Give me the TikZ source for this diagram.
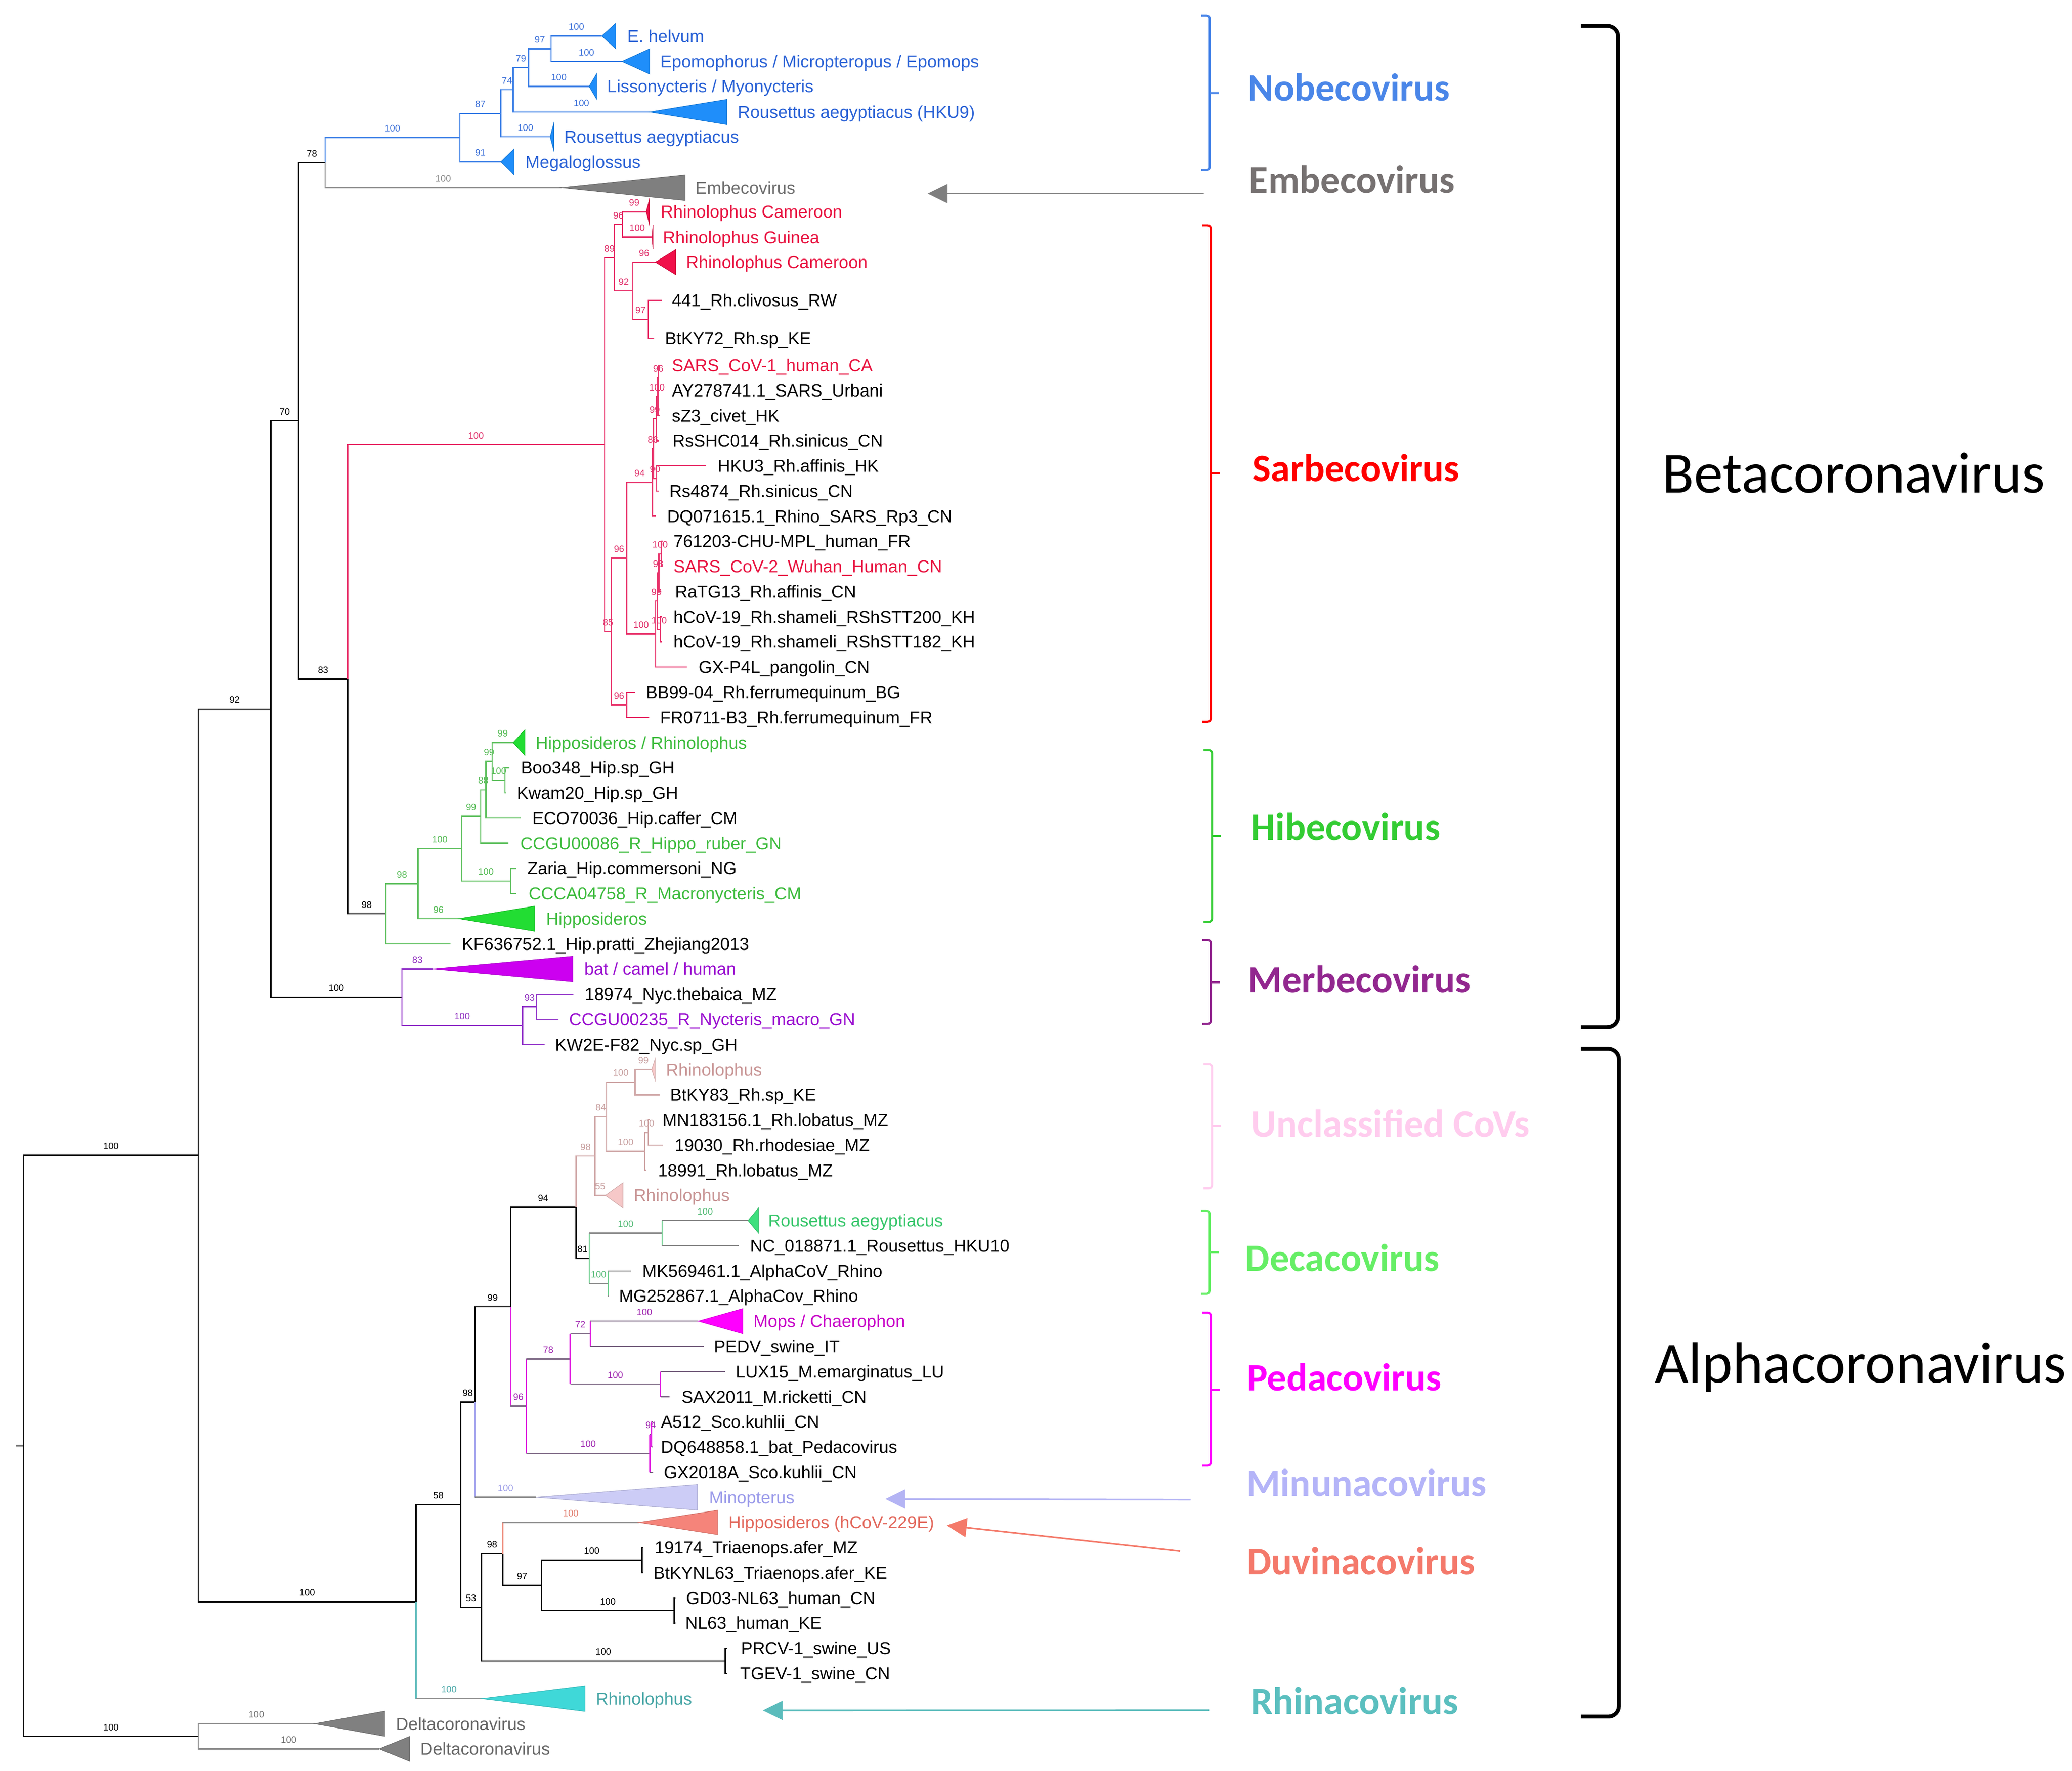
\documentclass[tikz,border=0pt]{standalone}
\usepackage{fontspec}
\setmainfont{Liberation Sans}
\newfontfamily\carl{Carlito}
\usetikzlibrary{arrows.meta}
% colours
\definecolor{nob}{HTML}{3A7EE6}\definecolor{nobT}{HTML}{1F8EFA}\definecolor{nobTx}{HTML}{2A62D6}\definecolor{nobB}{HTML}{3A6FD8}
\definecolor{emb}{HTML}{8A8A8A}\definecolor{embT}{HTML}{7F7F7F}\definecolor{embTx}{HTML}{6E6E6E}
\definecolor{sar}{HTML}{E8316A}\definecolor{sarT}{HTML}{F0104A}\definecolor{sarTx}{HTML}{E8123F}\definecolor{sarB}{HTML}{E0306A}
\definecolor{hib}{HTML}{5CBF5C}\definecolor{hibT}{HTML}{22DD33}\definecolor{hibTx}{HTML}{3CBB3C}\definecolor{hibB}{HTML}{55BB55}
\definecolor{mer}{HTML}{9030C8}\definecolor{merT}{HTML}{CC00F0}\definecolor{merTx}{HTML}{9A10D0}\definecolor{merB}{HTML}{9030C0}
\definecolor{unc}{HTML}{D0A8A8}\definecolor{uncT}{HTML}{F6C8C8}\definecolor{uncTx}{HTML}{C89494}\definecolor{uncB}{HTML}{C8A0A0}
\definecolor{dec}{HTML}{66CC88}\definecolor{decT}{HTML}{3EE07E}\definecolor{decTx}{HTML}{36C66A}\definecolor{decB}{HTML}{55BB77}
\definecolor{ped}{HTML}{E020E0}\definecolor{pedH}{HTML}{7E6A86}\definecolor{pedT}{HTML}{FF00FF}\definecolor{pedTx}{HTML}{C800C8}\definecolor{pedB}{HTML}{A028B0}
\definecolor{minc}{HTML}{A8A8EE}\definecolor{minT}{HTML}{CCCCF6}\definecolor{minTx}{HTML}{9A9AEA}\definecolor{minB}{HTML}{9FA0E8}
\definecolor{duv}{HTML}{EE9080}\definecolor{duvT}{HTML}{F5847A}\definecolor{duvTx}{HTML}{E2665A}\definecolor{duvB}{HTML}{E07868}
\definecolor{rhi}{HTML}{5CBABA}\definecolor{rhiT}{HTML}{3FD8D8}\definecolor{rhiTx}{HTML}{45A5A5}\definecolor{rhiB}{HTML}{4AA8A8}
\definecolor{hgr}{HTML}{8C8C8C}
\definecolor{del}{HTML}{888888}\definecolor{delT}{HTML}{808080}\definecolor{delTx}{HTML}{666666}\definecolor{delB}{HTML}{707070}
\definecolor{cNob}{HTML}{4A86E8}\definecolor{cEmb}{HTML}{767171}\definecolor{cSar}{HTML}{FF0000}
\definecolor{cHib}{HTML}{33CC33}\definecolor{cMer}{HTML}{92278F}\definecolor{cUnc}{HTML}{FFCCEE}
\definecolor{cDec}{HTML}{66EE66}\definecolor{cPed}{HTML}{FF00FF}\definecolor{cMin}{HTML}{B4B4F8}
\definecolor{cDuv}{HTML}{F4796B}\definecolor{cRhi}{HTML}{5BBFBF}
\definecolor{cEmbA}{HTML}{7F7F7F}\definecolor{cMinA}{HTML}{B4B4F4}\definecolor{cDuvA}{HTML}{F47A6A}\definecolor{cRhiA}{HTML}{5BBCBC}
% macros
\newcommand\Ed[5]{\draw[br,#1] (#3) |- (#4) node[bsl,#2,pos=0.75] (b#4) {#5};}
\newcommand\En[3]{\draw[br,#1] (#2) |- (#3);}
\newcommand\Es[6]{\draw[br,#1] (#4) -- (#4 |- #5); \draw[br,#2] (#4 |- #5) -- (#5) node[bsl,#3,midway] (b#5) {#6};}
\newcommand\Esn[4]{\draw[br,#1] (#3) -- (#3 |- #4); \draw[br,#2] (#3 |- #4) -- (#4);}
\newcommand\Tri[5]{\filldraw[fill=#1,draw=#1!85!black,line width=0.3pt] (#2) -- (#3,{#4-#5}) -- (#3,{#4+#5}) -- cycle;}
\newcommand\Brk[5]{\draw[line width=1.1pt,#1,rounded corners=0.6mm] (#2-6.5,#3) -- (#2,#3) -- (#2,#4) -- (#2-6.5,#4); \draw[line width=1.1pt,#1] (#2,#5) -- (#2+7,#5);}
\begin{document}
\begin{tikzpicture}[x=0.25mm,y=-0.25mm,
  br/.style={line width=0.65pt},
  bsl/.style={font=\fontsize{5}{6}\selectfont, inner sep=0pt, above=1mm, text height=3.6pt, text depth=0pt},
  lf/.style={font=\fontsize{9.3}{11}\selectfont, anchor=west, inner sep=0pt, text height=6.66pt, text depth=0pt},
  cl/.style={font=\carl\bfseries\fontsize{20.9}{24}\selectfont, anchor=west, inner sep=0pt, text height=13.2pt, text depth=0pt},
  big/.style={font=\carl\fontsize{31.3}{36}\selectfont, anchor=west, inner sep=0pt, text height=19.8pt, text depth=0pt},
  arr/.style={line width=0.85pt, -{Triangle[length=3.75mm, width=3.6mm]}}]
\fill[white] (0,0) rectangle (1568,1340.3);
\useasboundingbox (0,0) rectangle (1568,1340.3);
% ---------- coordinates ----------
\coordinate (rootL) at (12,1094.25);
\coordinate (root) at (18,1094.25);
\coordinate (nBA) at (150,874.4);
\coordinate (dl) at (150,1314.1);
\coordinate (nBeta) at (205,536.6);
\coordinate (aRoot) at (314.9,1212.2);
\coordinate (n70) at (226,318.5);
\coordinate (mRoot) at (304.1,754.8);
\coordinate (n78) at (246,123);
\coordinate (n83) at (263,514);
\coordinate (nNob) at (348,104.1);
\coordinate (tEmb) at (424.8,142);
\coordinate (n87) at (379,85.8);
\coordinate (tMeg) at (379,122.5);
\coordinate (n74) at (388.4,67.9);
\coordinate (tRou) at (416.3,103.6);
\coordinate (n79) at (400,51.1);
\coordinate (tHKU9) at (491.6,84.75);
\coordinate (nEh) at (417,36.9);
\coordinate (tLis) at (445.8,65.4);
\coordinate (tEhe) at (455.4,27.25);
\coordinate (tEpo) at (470.7,46.5);
% Sarbeco
\coordinate (sRoot) at (457.5,336.5);
\coordinate (s89) at (465,195);
\coordinate (s96t) at (471,169.9);
\coordinate (tRC1) at (489,160.3);
\coordinate (tRG) at (493.4,179.5);
\coordinate (s92) at (479,220.1);
\coordinate (tRC2) at (496,198.4);
\coordinate (s97) at (490.5,241.8);
\coordinate (t441) at (501,227.4);
\coordinate (tBt72) at (495,256.2);
\coordinate (s85) at (462.8,478);
\coordinate (s96b) at (474.2,422.5);
\coordinate (s94) at (493.8,365.1);
\coordinate (s86) at (494.5,339.5);
\coordinate (s99) at (496.5,316.9);
\coordinate (s100a) at (497.8,300.2);
\coordinate (s96a) at (498.5,285.9);
\coordinate (tS1) at (499.5,276.4);
\coordinate (tAY) at (499.5,295.44);
\coordinate (tSZ3) at (499,314.48);
\coordinate (tSHC) at (498.5,333.52);
\coordinate (s90) at (497,362.1);
\coordinate (tHKU3) at (534.5,352.56);
\coordinate (tRs48) at (498.6,371.6);
\coordinate (tDQ7) at (496,390.64);
\coordinate (s100d) at (496.2,479.9);
\coordinate (s99b) at (497.5,454.9);
\coordinate (s98) at (498.6,433.5);
\coordinate (s100b) at (500.5,419.2);
\coordinate (t761) at (501.5,409.68);
\coordinate (tS2) at (501.5,428.72);
\coordinate (tRaTG) at (500,447.76);
\coordinate (s100c) at (500,476.3);
\coordinate (tH200) at (501,466.8);
\coordinate (tH182) at (501,485.84);
\coordinate (tGX) at (519.7,504.88);
\coordinate (s96c) at (474.2,533.4);
\coordinate (tBB) at (480.7,523.92);
\coordinate (tFR) at (491.4,542.96);
% Hibeco
\coordinate (h98) at (292,691.6);
\coordinate (h98b) at (316.4,668.8);
\coordinate (tKF) at (340.9,714.32);
\coordinate (h100) at (349.3,642.3);
\coordinate (tHip) at (347.2,695.28);
\coordinate (h99) at (363.8,617.9);
\coordinate (h100b) at (386.2,666.7);
\coordinate (h88) at (367.7,597.7);
\coordinate (tCCGU86) at (384.8,638.16);
\coordinate (h99b) at (372.5,576.3);
\coordinate (tECO) at (394,619.12);
\coordinate (tHR) at (388.3,562);
\coordinate (h100c) at (382.2,590.56);
\coordinate (tBoo) at (385.6,581.04);
\coordinate (tKwam) at (383,600.08);
\coordinate (tZaria) at (390.9,657.2);
\coordinate (tCCCA) at (390.9,676.24);
% Merbeco
\coordinate (tBCH) at (327.7,733.36);
\coordinate (m100) at (395.4,776.2);
\coordinate (m93) at (406.2,761.9);
\coordinate (tKW) at (412,790.48);
\coordinate (t18974) at (434,752.4);
\coordinate (tCCGU235) at (422.5,771.44);
% Alpha
\coordinate (a58) at (348.6,1138.8);
\coordinate (tRhiA) at (364.6,1285.52);
\coordinate (a98) at (359.4,1061.1);
\coordinate (a53) at (364.4,1216.5);
\coordinate (a99) at (386.2,989);
\coordinate (tMin) at (405.7,1133.2);
\coordinate (a94) at (435.9,913.7);
\coordinate (p96) at (398.3,1064.2);
\coordinate (u98) at (450.3,875);
\coordinate (d81) at (445.9,952.3);
\coordinate (u84) at (459,845.2);
\coordinate (tRh55) at (458.2,904.72);
\coordinate (u100a) at (480.6,819);
\coordinate (tRhTop) at (493.2,809.52);
\coordinate (tBt83) at (499,828.56);
\coordinate (u100b) at (488,871.4);
\coordinate (u100c) at (490.6,857.1);
\coordinate (tMN) at (491.5,847.6);
\coordinate (t19030) at (501.6,866.64);
\coordinate (t18991) at (489,885.68);
\coordinate (d100a) at (501.1,933.3);
\coordinate (tRouD) at (566.1,923.76);
\coordinate (tNC) at (559,942.8);
\coordinate (d100b) at (460.1,971.4);
\coordinate (tMK) at (477.4,961.84);
\coordinate (tMG) at (460.6,980.88);
\coordinate (p78) at (431.5,1028.5);
\coordinate (p72) at (446.8,1009.4);
\coordinate (tMops) at (528.5,999.92);
\coordinate (tPEDV) at (532.6,1018.96);
\coordinate (p100) at (499.9,1047.5);
\coordinate (tLUX) at (548.7,1038);
\coordinate (tSAX) at (506.8,1057.04);
\coordinate (p100b) at (491.8,1099.9);
\coordinate (p94) at (493,1085.6);
\coordinate (tA512) at (494,1076.08);
\coordinate (tDQ64) at (494,1095.12);
\coordinate (tGX18) at (494.3,1114.16);
\coordinate (a98b) at (380.4,1176);
\coordinate (tDuv) at (483.5,1152.24);
\coordinate (a97) at (409.8,1199.85);
\coordinate (tr100) at (485.8,1180.8);
\coordinate (t19174) at (486.8,1171.28);
\coordinate (tBtNL) at (486.8,1190.32);
\coordinate (nl100) at (510.3,1218.9);
\coordinate (tGD03) at (511.3,1209.36);
\coordinate (tNL63) at (511.3,1228.4);
\coordinate (pr100) at (548.8,1257);
\coordinate (tPRCV) at (550,1247.44);
\coordinate (tTGEV) at (550,1266.48);
\coordinate (tD1) at (238,1304.56);
\coordinate (tD2) at (287,1323.6);
% ---------- branches ----------
\draw[br] (rootL) -- (root);
\Ed{black}{black}{root}{nBA}{100}
\Ed{black}{black}{root}{dl}{100}
\Ed{black}{black}{nBA}{nBeta}{92}
\Ed{black}{black}{nBA}{aRoot}{100}
\Ed{black}{black}{nBeta}{n70}{70}
\Ed{black}{black}{nBeta}{mRoot}{100}
\Ed{black}{black}{n70}{n78}{78}
\Ed{black}{black}{n70}{n83}{83}
\Ed{nob}{nobB}{n78}{nNob}{100}
\Ed{emb}{emb}{n78}{tEmb}{100}
\Ed{nob}{nobB}{nNob}{n87}{87}
\Ed{nob}{nobB}{nNob}{tMeg}{91}
\Ed{nob}{nobB}{n87}{n74}{74}
\Ed{nob}{nobB}{n87}{tRou}{100}
\Ed{nob}{nobB}{n74}{n79}{79}
\Ed{nob}{nobB}{n74}{tHKU9}{100}
\Ed{nob}{nobB}{n79}{nEh}{97}
\Ed{nob}{nobB}{n79}{tLis}{100}
\Ed{nob}{nobB}{nEh}{tEhe}{100}
\Ed{nob}{nobB}{nEh}{tEpo}{100}
% Sarbeco
\Ed{sar}{sarB}{n83}{sRoot}{100}
\Ed{sar}{sarB}{sRoot}{s89}{89}
\Ed{sar}{sarB}{sRoot}{s85}{85}
\Ed{sar}{sarB}{s89}{s96t}{96}
\Ed{sar}{sarB}{s89}{s92}{92}
\Ed{sar}{sarB}{s96t}{tRC1}{99}
\Ed{sar}{sarB}{s96t}{tRG}{100}
\Ed{sar}{sarB}{s92}{tRC2}{96}
\Ed{sar}{sarB}{s92}{s97}{97}
\En{sar}{s97}{t441}
\En{sar}{s97}{tBt72}
\Ed{sar}{sarB}{s85}{s96b}{96}
\Ed{sar}{sarB}{s85}{s96c}{96}
\Ed{sar}{sarB}{s96b}{s94}{94}
\Ed{sar}{sarB}{s96b}{s100d}{100}
\Ed{sar}{sarB}{s94}{s86}{86}
\En{sar}{s94}{tDQ7}
\Ed{sar}{sarB}{s86}{s99}{99}
\Ed{sar}{sarB}{s86}{s90}{90}
\Ed{sar}{sarB}{s99}{s100a}{100}
\En{sar}{s99}{tSHC}
\Ed{sar}{sarB}{s100a}{s96a}{96}
\En{sar}{s100a}{tSZ3}
\En{sar}{s96a}{tS1}
\En{sar}{s96a}{tAY}
\En{sar}{s90}{tHKU3}
\En{sar}{s90}{tRs48}
\Ed{sar}{sarB}{s100d}{s99b}{99}
\En{sar}{s100d}{tGX}
\Ed{sar}{sarB}{s99b}{s98}{98}
\Ed{sar}{sarB}{s99b}{s100c}{100}
\Ed{sar}{sarB}{s98}{s100b}{100}
\En{sar}{s98}{tRaTG}
\En{sar}{s100b}{t761}
\En{sar}{s100b}{tS2}
\En{sar}{s100c}{tH200}
\En{sar}{s100c}{tH182}
\En{sar}{s96c}{tBB}
\En{sar}{s96c}{tFR}
% Hibeco
\Ed{black}{black}{n83}{h98}{98}
\Ed{hib}{hibB}{h98}{h98b}{98}
\En{hib}{h98}{tKF}
\Ed{hib}{hibB}{h98b}{h100}{100}
\Ed{hib}{hibB}{h98b}{tHip}{96}
\Ed{hib}{hibB}{h100}{h99}{99}
\Ed{hib}{hibB}{h100}{h100b}{100}
\Ed{hib}{hibB}{h99}{h88}{88}
\En{hib}{h99}{tCCGU86}
\Ed{hib}{hibB}{h88}{h99b}{99}
\En{hib}{h88}{tECO}
\Ed{hib}{hibB}{h99b}{tHR}{99}
\Ed{hib}{hibB}{h99b}{h100c}{100}
\En{hib}{h100c}{tBoo}
\En{hib}{h100c}{tKwam}
\En{hib}{h100b}{tZaria}
\En{hib}{h100b}{tCCCA}
% Merbeco
\Ed{mer}{merB}{mRoot}{tBCH}{83}
\Ed{mer}{merB}{mRoot}{m100}{100}
\Ed{mer}{merB}{m100}{m93}{93}
\En{mer}{m100}{tKW}
\En{mer}{m93}{t18974}
\En{mer}{m93}{tCCGU235}
% Alpha
\Ed{black}{black}{aRoot}{a58}{58}
\Es{rhi}{hgr}{rhiB}{aRoot}{tRhiA}{100}
\Ed{black}{black}{a58}{a98}{98}
\Ed{black}{black}{a58}{a53}{53}
\Ed{black}{black}{a98}{a99}{99}
\Es{minc}{hgr}{minB}{a98}{tMin}{100}
\Ed{black}{black}{a99}{a94}{94}
\Es{ped}{pedH}{pedB}{a99}{p96}{96}
\Ed{unc}{uncB}{a94}{u98}{98}
\Ed{black}{black}{a94}{d81}{81}
\Ed{unc}{uncB}{u98}{u84}{84}
\Ed{unc}{uncB}{u98}{tRh55}{55}
\Ed{unc}{uncB}{u84}{u100a}{100}
\Ed{unc}{uncB}{u84}{u100b}{100}
\Ed{unc}{uncB}{u100a}{tRhTop}{99}
\En{unc}{u100a}{tBt83}
\Ed{unc}{uncB}{u100b}{u100c}{100}
\En{unc}{u100b}{t18991}
\En{unc}{u100c}{tMN}
\En{unc}{u100c}{t19030}
\Es{dec}{hgr}{decB}{d81}{d100a}{100}
\Es{dec}{hgr}{decB}{d81}{d100b}{100}
\Es{dec}{hgr}{decB}{d100a}{tRouD}{100}
\Esn{dec}{hgr}{d100a}{tNC}
\Esn{dec}{hgr}{d100b}{tMK}
\Esn{dec}{hgr}{d100b}{tMG}
\Es{ped}{pedH}{pedB}{p96}{p78}{78}
\Es{ped}{pedH}{pedB}{p96}{p100b}{100}
\Es{ped}{pedH}{pedB}{p78}{p72}{72}
\Es{ped}{pedH}{pedB}{p78}{p100}{100}
\Es{ped}{pedH}{pedB}{p72}{tMops}{100}
\Esn{ped}{pedH}{p72}{tPEDV}
\Esn{ped}{pedH}{p100}{tLUX}
\Esn{ped}{pedH}{p100}{tSAX}
\Es{ped}{pedH}{pedB}{p100b}{p94}{94}
\Esn{ped}{pedH}{p100b}{tGX18}
\Esn{ped}{pedH}{p94}{tA512}
\Esn{ped}{pedH}{p94}{tDQ64}
\Ed{black}{black}{a53}{a98b}{98}
\Ed{black}{black}{a53}{pr100}{100}
\Es{duv}{hgr}{duvB}{a98b}{tDuv}{100}
\Ed{black}{black}{a98b}{a97}{97}
\Ed{black}{black}{a97}{tr100}{100}
\Ed{black}{black}{a97}{nl100}{100}
\En{black}{tr100}{t19174}
\En{black}{tr100}{tBtNL}
\En{black}{nl100}{tGD03}
\En{black}{nl100}{tNL63}
\En{black}{pr100}{tPRCV}
\En{black}{pr100}{tTGEV}
% Delta
\Ed{del}{delB}{dl}{tD1}{100}
\Ed{del}{delB}{dl}{tD2}{100}
% ---------- collapsed clades ----------
\Tri{nobT}{tEhe}{466}{27.25}{9.6}
\Tri{nobT}{tEpo}{491.6}{46.5}{9.55}
\Tri{nobT}{tLis}{451.6}{65.4}{9.75}
\Tri{nobT}{tHKU9}{550}{84.75}{9.5}
\Tri{nobT}{tRou}{419}{103.6}{9.9}
\Tri{nobT}{tMeg}{389}{122.5}{9.75}
\Tri{embT}{tEmb}{518.5}{142}{9.75}
\Tri{sarT}{tRC1}{491.5}{160.3}{9.5}
\Tri{sarT}{tRG}{494.2}{179.5}{9.2}
\Tri{sarT}{tRC2}{511.3}{198.4}{9.45}
\Tri{hibT}{tHR}{397.2}{562}{9.6}
\Tri{hibT}{tHip}{404.6}{695.28}{9.5}
\Tri{merT}{tBCH}{433.5}{733.36}{9.65}
\Tri{uncT}{tRhTop}{495.8}{809.52}{8}
\Tri{uncT}{tRh55}{471.4}{904.72}{9.5}
\Tri{decT}{tRouD}{574}{923.76}{9.5}
\Tri{pedT}{tMops}{562.1}{999.92}{9.5}
\Tri{minT}{tMin}{527.9}{1133.2}{9.7}
\Tri{duvT}{tDuv}{543.1}{1152.24}{9.25}
\Tri{rhiT}{tRhiA}{442.7}{1285.52}{9.7}
\Tri{delT}{tD1}{291}{1304.56}{9.5}
\Tri{delT}{tD2}{310}{1323.6}{9.4}
% ---------- leaf labels ----------
\node[lf,nobTx] (lEhe) at (474.5,27.25) {E. helvum};
\node[lf,nobTx] (lEpo) at (499.4,46.5) {Epomophorus / Micropteropus / Epomops};
\node[lf,nobTx] (lLis) at (459.2,65.4) {Lissonycteris / Myonycteris};
\node[lf,nobTx] (lHKU9) at (558,84.75) {Rousettus aegyptiacus (HKU9)};
\node[lf,nobTx] (lRou) at (426.7,103.6) {Rousettus aegyptiacus};
\node[lf,nobTx] (lMeg) at (397.3,122.5) {Megaloglossus};
\node[lf,embTx] (lEmb) at (526,142) {Embecovirus};
\node[lf,sarTx] (lRC1) at (499.8,160.3) {Rhinolophus Cameroon};
\node[lf,sarTx] (lRG) at (501.4,179.5) {Rhinolophus Guinea};
\node[lf,sarTx] (lRC2) at (519,198.4) {Rhinolophus Cameroon};
\node[lf] (l441) at (508.2,227.4) {441\_Rh.clivosus\_RW};
\node[lf] (lBt72) at (503,256.2) {BtKY72\_Rh.sp\_KE};
\node[lf,sarTx] (lS1) at (508.2,276.4) {SARS\_CoV-1\_human\_CA};
\node[lf] (lAY) at (508.2,295.44) {AY278741.1\_SARS\_Urbani};
\node[lf] (lSZ3) at (508.2,314.48) {sZ3\_civet\_HK};
\node[lf] (lSHC) at (508.7,333.52) {RsSHC014\_Rh.sinicus\_CN};
\node[lf] (lHKU3) at (542.9,352.56) {HKU3\_Rh.affinis\_HK};
\node[lf] (lRs48) at (506.3,371.6) {Rs4874\_Rh.sinicus\_CN};
\node[lf] (lDQ7) at (504.6,390.64) {DQ071615.1\_Rhino\_SARS\_Rp3\_CN};
\node[lf] (l761) at (509.4,409.68) {761203-CHU-MPL\_human\_FR};
\node[lf,sarTx] (lS2) at (509.4,428.72) {SARS\_CoV-2\_Wuhan\_Human\_CN};
\node[lf] (lRaTG) at (510.6,447.76) {RaTG13\_Rh.affinis\_CN};
\node[lf] (lH200) at (509.4,466.8) {hCoV-19\_Rh.shameli\_RShSTT200\_KH};
\node[lf] (lH182) at (509.4,485.84) {hCoV-19\_Rh.shameli\_RShSTT182\_KH};
\node[lf] (lGX) at (528.5,504.88) {GX-P4L\_pangolin\_CN};
\node[lf] (lBB) at (488.6,523.92) {BB99-04\_Rh.ferrumequinum\_BG};
\node[lf] (lFR) at (499.3,542.96) {FR0711-B3\_Rh.ferrumequinum\_FR};
\node[lf,hibTx] (lHR) at (405.1,562) {Hipposideros / Rhinolophus};
\node[lf] (lBoo) at (394,581.04) {Boo348\_Hip.sp\_GH};
\node[lf] (lKwam) at (390.9,600.08) {Kwam20\_Hip.sp\_GH};
\node[lf] (lECO) at (402.5,619.12) {ECO70036\_Hip.caffer\_CM};
\node[lf,hibTx] (lCCGU86) at (393.5,638.16) {CCGU00086\_R\_Hippo\_ruber\_GN};
\node[lf] (lZaria) at (398.8,657.2) {Zaria\_Hip.commersoni\_NG};
\node[lf,hibTx] (lCCCA) at (399.8,676.24) {CCCA04758\_R\_Macronycteris\_CM};
\node[lf,hibTx] (lHip) at (413,695.28) {Hipposideros};
\node[lf] (lKF) at (349.3,714.32) {KF636752.1\_Hip.pratti\_Zhejiang2013};
\node[lf,merTx] (lBCH) at (441.9,733.36) {bat / camel / human};
\node[lf] (l18974) at (442.2,752.4) {18974\_Nyc.thebaica\_MZ};
\node[lf,merTx] (lCCGU235) at (430.4,771.44) {CCGU00235\_R\_Nycteris\_macro\_GN};
\node[lf] (lKW) at (419.8,790.48) {KW2E-F82\_Nyc.sp\_GH};
\node[lf,uncTx] (lRhTop) at (503.7,809.52) {Rhinolophus};
\node[lf] (lBt83) at (506.9,828.56) {BtKY83\_Rh.sp\_KE};
\node[lf] (lMN) at (501.1,847.6) {MN183156.1\_Rh.lobatus\_MZ};
\node[lf] (l19030) at (510.3,866.64) {19030\_Rh.rhodesiae\_MZ};
\node[lf] (l18991) at (497.7,885.68) {18991\_Rh.lobatus\_MZ};
\node[lf,uncTx] (lRh55) at (479.3,904.72) {Rhinolophus};
\node[lf,decTx] (lRouD) at (581.1,923.76) {Rousettus aegyptiacus};
\node[lf] (lNC) at (567.4,942.8) {NC\_018871.1\_Rousettus\_HKU10};
\node[lf] (lMK) at (485.8,961.84) {MK569461.1\_AlphaCoV\_Rhino};
\node[lf] (lMG) at (468.2,980.88) {MG252867.1\_AlphaCov\_Rhino};
\node[lf,pedTx] (lMops) at (569.9,999.92) {Mops / Chaerophon};
\node[lf] (lPEDV) at (540,1018.96) {PEDV\_swine\_IT};
\node[lf] (lLUX) at (556.5,1038) {LUX15\_M.emarginatus\_LU};
\node[lf] (lSAX) at (515.5,1057.04) {SAX2011\_M.ricketti\_CN};
\node[lf] (lA512) at (499.9,1076.08) {A512\_Sco.kuhlii\_CN};
\node[lf] (lDQ64) at (499.9,1095.12) {DQ648858.1\_bat\_Pedacovirus};
\node[lf] (lGX18) at (502.1,1114.16) {GX2018A\_Sco.kuhlii\_CN};
\node[lf,minTx] (lMin) at (536.3,1133.2) {Minopterus};
\node[lf,duvTx] (lDuv) at (551.1,1152.24) {Hipposideros (hCoV-229E)};
\node[lf] (l19174) at (495.2,1171.28) {19174\_Triaenops.afer\_MZ};
\node[lf] (lBtNL) at (494.2,1190.32) {BtKYNL63\_Triaenops.afer\_KE};
\node[lf] (lGD03) at (519,1209.36) {GD03-NL63\_human\_CN};
\node[lf] (lNL63) at (518.3,1228.4) {NL63\_human\_KE};
\node[lf] (lPRCV) at (560.5,1247.44) {PRCV-1\_swine\_US};
\node[lf] (lTGEV) at (559.9,1266.48) {TGEV-1\_swine\_CN};
\node[lf,rhiTx] (lRhiA) at (450.7,1285.52) {Rhinolophus};
\node[lf,delTx] (lD1) at (299.3,1304.56) {Deltacoronavirus};
\node[lf,delTx] (lD2) at (317.8,1323.6) {Deltacoronavirus};
% ---------- clade brackets and names ----------
\Brk{cNob}{915.5}{11.8}{128.9}{70.5}
\Brk{cSar}{916.3}{170.5}{546.3}{358.3}
\Brk{cHib}{917.2}{567.7}{697.7}{632.7}
\Brk{cMer}{916.3}{711.4}{775}{743.5}
\Brk{cUnc}{917.2}{805.4}{899.4}{852.2}
\Brk{cDec}{915.4}{916.2}{979.2}{947.7}
\Brk{cPed}{916.3}{993.4}{1109.2}{1051.8}
\node[cl,cNob] (cNobL) at (944.3,67) {Nobecovirus};
\node[cl,cEmb] (cEmbL) at (945.1,136.8) {Embecovirus};
\node[cl,cSar] (cSarL) at (947.7,355) {Sarbecovirus};
\node[cl,cHib] (cHibL) at (946.4,626.6) {Hibecovirus};
\node[cl,cMer] (cMerL) at (944.3,742) {Merbecovirus};
\node[cl,cUnc] (cUncL) at (946.4,851.2) {Unclassified CoVs};
\node[cl,cDec] (cDecL) at (942.1,952.8) {Decacovirus};
\node[cl,cPed] (cPedL) at (943.4,1043.2) {Pedacovirus};
\node[cl,cMin] (cMinL) at (943,1123) {Minunacovirus};
\node[cl,cDuv] (cDuvL) at (943.4,1182.4) {Duvinacovirus};
\node[cl,cRhi] (cRhiL) at (946.4,1288) {Rhinacovirus};
% arrows
\coordinate (aEmbS) at (911,146.5); \coordinate (aEmbE) at (702,146.5);
\coordinate (aMinS) at (901,1135); \coordinate (aMinE) at (670,1134.5);
\coordinate (aDuvS) at (893,1174); \coordinate (aDuvE) at (716.5,1154.5);
\coordinate (aRhiS) at (915,1294.3); \coordinate (aRhiE) at (577.3,1294.5);
\draw[arr,cEmbA] (aEmbS) -- (aEmbE);
\draw[arr,cMinA] (aMinS) -- (aMinE);
\draw[arr,cDuvA] (aDuvS) -- (aDuvE);
\draw[arr,cRhiA] (aRhiS) -- (aRhiE);
% genus brackets
\draw[line width=2.1pt, rounded corners=2mm] (1196.3,19.7) -- (1224.5,19.7) -- (1224.5,777.5) -- (1196.3,777.5);
\draw[line width=2.1pt, rounded corners=2mm] (1196.3,793.7) -- (1225.1,793.7) -- (1225.1,1299.2) -- (1196.3,1299.2);
\node[big] (betaL) at (1257.9,359) {Betacoronavirus};
\node[big] (alphaL) at (1252.3,1032.5) {Alphacoronavirus};
\end{tikzpicture}
\end{document}
